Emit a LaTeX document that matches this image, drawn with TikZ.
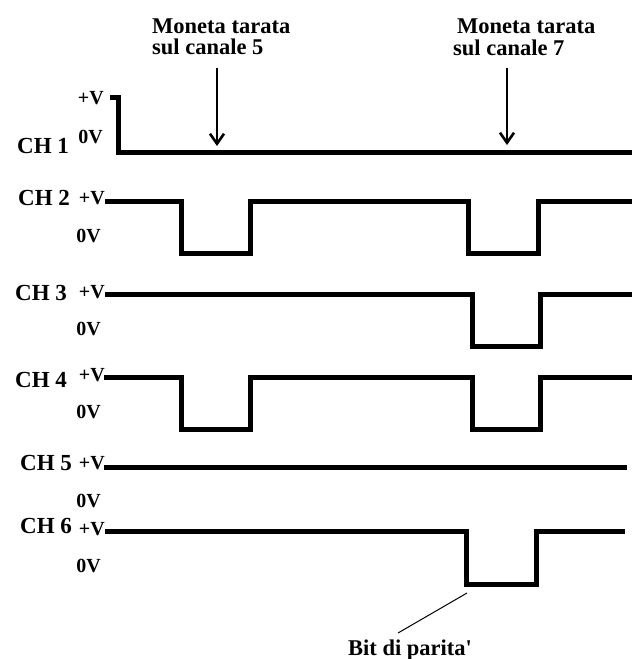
\documentclass[tikz,border=0pt]{standalone}
\usepackage{fontspec}
\setmainfont{Liberation Serif}
\usetikzlibrary{arrows.meta}
\begin{document}
\begin{tikzpicture}[x=1pt,y=-1pt,
  sig/.style={line width=5pt,line join=miter,line cap=butt},
  chlab/.style={font=\bfseries\fontsize{23}{23}\selectfont,inner sep=0pt,anchor=base west},
  vlab/.style={font=\bfseries\fontsize{20}{20}\selectfont,inner sep=0pt,anchor=base east},
  toplab/.style={font=\bfseries\fontsize{22.5}{22.5}\selectfont,inner sep=0pt,anchor=base west},
  pointer/.style={line width=2.2pt,-{Straight Barb[length=10pt,width=14pt,line width=2.6pt]}}]
\useasboundingbox (0,0) rectangle (634,659);
% top labels
\node[toplab] (m5a) at (152,33) {Moneta tarata};
\node[toplab] (m5b) at (152,54) {sul canale 5};
\node[toplab] (m7a) at (457,33) {Moneta tarata};
\node[toplab] (m7b) at (453,55) {sul canale 7};
\coordinate (a5s) at (217,68);
\coordinate (a5e) at (217,146);
\coordinate (a7s) at (507,68);
\coordinate (a7e) at (507,145);
\draw[pointer] (a5s) -- (a5e);
\draw[pointer] (a7s) -- (a7e);
% channel labels
\node[chlab] (ch1) at (17,153) {CH 1};
\node[chlab] (ch2) at (18,205) {CH 2};
\node[chlab] (ch3) at (15,300) {CH 3};
\node[chlab] (ch4) at (15,387) {CH 4};
\node[chlab] (ch5) at (20,470) {CH 5};
\node[chlab] (ch6) at (20,533) {CH 6};
% voltage labels
\node[vlab] (v1p) at (104,104) {+V};
\node[vlab] (v1z) at (103,143) {0V};
\node[vlab] (v2p) at (105,204) {+V};
\node[vlab] (v2z) at (101,242) {0V};
\node[vlab] (v3p) at (105,298) {+V};
\node[vlab] (v3z) at (101,335) {0V};
\node[vlab] (v4p) at (105,381) {+V};
\node[vlab] (v4z) at (101,418) {0V};
\node[vlab] (v5p) at (105,469) {+V};
\node[vlab] (v5z) at (101,507) {0V};
\node[vlab] (v6p) at (105,535) {+V};
\node[vlab] (v6z) at (101,572) {0V};
% signals
\draw[sig] (110,97) -- (118,97) -- (118,152) -- (632,152);
\draw[sig] (105,201) -- (181,201) -- (181,253) -- (250,253) -- (250,201) -- (468,201) -- (468,253) -- (538,253) -- (538,201) -- (632,201);
\draw[sig] (105,294) -- (472,294) -- (472,346) -- (540,346) -- (540,294) -- (632,294);
\draw[sig] (104,377) -- (181,377) -- (181,429) -- (250,429) -- (250,377) -- (472,377) -- (472,429) -- (540,429) -- (540,377) -- (632,377);
\draw[sig] (104,467) -- (627,467);
\draw[sig] (105,531) -- (466,531) -- (466,584) -- (536,584) -- (536,531) -- (625,531);
% parity label
\node[toplab] (bit) at (348,655) {Bit di parita\textquotesingle};
\coordinate (bitq) at (398,633);
\coordinate (bitp) at (467,593);
\draw[line width=1pt] (bitq) -- (bitp);
\end{tikzpicture}
\end{document}
